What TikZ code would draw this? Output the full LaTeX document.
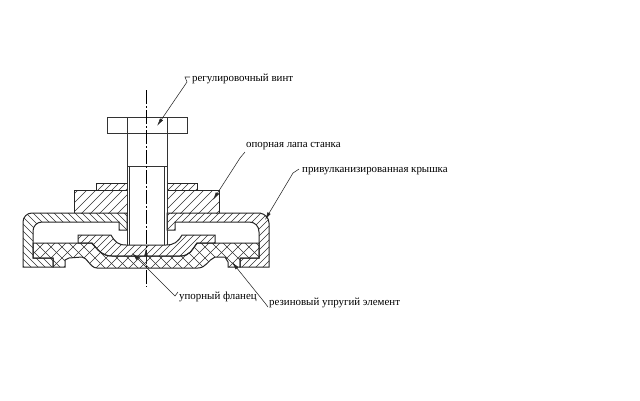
\documentclass[tikz,border=0pt]{standalone}
\usepackage{fontspec}
\setmainfont{Liberation Serif}
\usetikzlibrary{arrows.meta}
\tikzset{
  x=1pt,y=-1pt,
  part/.style={draw=black!85,line width=1pt},
  thin part/.style={draw=black!80,line width=0.8pt},
  hatchline/.style={draw=black!80,line width=0.55pt},
  axis/.style={draw=black,line width=0.55pt,dash pattern=on 14pt off 2pt on 2pt off 2pt},
  leader/.style={draw=black!85,line width=0.55pt,-{Latex[length=8pt,width=3.6pt]}},
  lab/.style={font=\fontsize{10.9}{12}\selectfont,inner sep=0pt,anchor=west,text=black},
}
\newcommand{\fwdhatch}[2]{\foreach \k in {0,#1,...,500}{\draw[hatchline] (\k-20,#2) -- ++(-100,100);}}
\newcommand{\backhatch}[2]{\foreach \k in {0,#1,...,500}{\draw[hatchline] (\k-120,#2) -- ++(100,100);}}
\begin{document}
\begin{tikzpicture}
\useasboundingbox (0,0) rectangle (640,400);
\fill[white] (0,0) rectangle (640,400);
\def\coverL{(127,213) -- (32,213) .. controls (27,213) and (23,217) .. (23,222) -- (23,267) -- (53,267) -- (53,258) -- (33,258) -- (33,231) .. controls (33,226) and (37,222) .. (42,222) -- (119,222) -- (119,230) -- (127,230) -- cycle}
\def\coverR{(167,213) -- (260,213) .. controls (265,214) and (269,218) .. (269,223) -- (269,267) -- (240,267) -- (240,258) -- (259,258) -- (259,232) .. controls (259,226) and (255,222) .. (249,222) -- (175,222) -- (175,230) -- (167,230) -- cycle}
\def\flange{(78,243) -- (78,235) -- (111,235) .. controls (115,242) and (118,245) .. (126,245) -- (166,245) .. controls (174,245) and (178,242) .. (182,235) -- (215,235) -- (215,243) -- (197,243) .. controls (192,250) and (190,256) .. (180,256) -- (112,256) .. controls (102,256) and (98,250) .. (92,243) -- cycle}
\def\rubber{(33,243) -- (92,243) .. controls (98,250) and (102,256) .. (112,256) -- (180,256) .. controls (190,256) and (192,250) .. (197,243) -- (259,243) -- (259,258) -- (240,258) -- (240,267) -- (228,267) -- (228,262) -- (225,257) -- (215,257) .. controls (208,260) and (206,268) .. (198,268) -- (97,268) .. controls (90,268) and (87,257) .. (82,257) -- (69,258) -- (65,260) -- (65,267) -- (53,267) -- (53,258) -- (33,258) -- cycle}
% hatching
\begin{scope}\clip \rubber; \fwdhatch{11}{230} \backhatch{11}{230} \end{scope}
\begin{scope}\clip \coverL; \backhatch{7}{200} \end{scope}
\begin{scope}\clip \coverR; \fwdhatch{7}{200} \end{scope}
\begin{scope}\clip \flange; \fwdhatch{7}{225} \end{scope}
\begin{scope}\clip (74,190) rectangle (127,213); \fwdhatch{9}{180} \end{scope}
\begin{scope}\clip (167,190) rectangle (219,213); \fwdhatch{9}{180} \end{scope}
\begin{scope}\clip (96,183) rectangle (127,190); \fwdhatch{7}{175} \end{scope}
\begin{scope}\clip (167,183) rectangle (197,190); \fwdhatch{7}{175} \end{scope}
% outlines
\draw[part] \rubber;
\draw[part] \coverL;
\draw[part] \coverR;
\draw[part] \flange;
\draw[part] (74,213) -- (74,190) -- (127,190);
\draw[part] (167,190) -- (219,190) -- (219,213);
\draw[part] (96,190) -- (96,183) -- (127,183);
\draw[part] (167,183) -- (197,183) -- (197,190);
% bolt
\draw[thin part] (107,117) rectangle (187,133);
\draw[thin part] (127,117) -- (127,245);
\draw[thin part] (167,117) -- (167,245);
\draw[thin part] (127,166) -- (167,166);
\draw[thin part] (129.5,166) -- (129.5,245);
\draw[thin part] (164,166) -- (164,245);
% axis
\coordinate (axT) at (146,90);
\coordinate (axB) at (146,287);
\coordinate (axM) at (146,264);
\coordinate (axE) at (146,248);
\draw[axis] (axT) -- (axB);
\draw[leader] (axM) -- (axE);
% labels
\node[lab] (vint) at (192,79) {регулировочный винт};
\node[lab] (lapa) at (246,146) {опорная лапа станка};
\node[lab] (kryshka) at (302,171) {привулканизированная крышка};
\node[lab] (flanets) at (179,297) {упорный фланец};
\node[lab] (element) at (269,303) {резиновый упругий элемент};
% leaders
\coordinate (e1) at (157,126);
\coordinate (e2) at (213,200);
\coordinate (e3) at (265,220);
\coordinate (e4) at (132,253);
\coordinate (e5) at (232,262);
\draw[leader] (vint.west) ++(-2,-2) -- (185,77) -- (187,82) -- (e1);
\draw[leader] (lapa.west) ++(-1,6) -- (240,158) -- (e2);
\draw[leader] (kryshka.west) ++(-3,-2) -- (293,173) -- (e3);
\draw[leader] (flanets.west) ++(-1,-5) -- (175,296) -- (e4);
\draw[leader] (element.west) ++(-1,4) -- (265,303) -- (e5);
\end{tikzpicture}
\end{document}
